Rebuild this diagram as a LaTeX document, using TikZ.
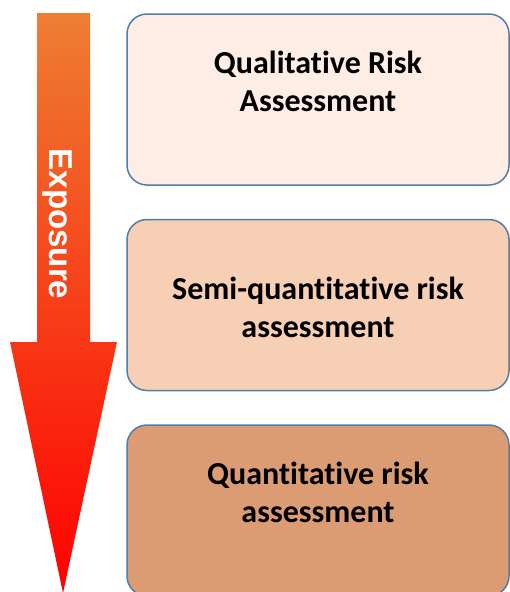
\documentclass[tikz,border=0pt]{standalone}
\usepackage{fontspec}
\setmainfont{Carlito}[Ligatures={NoCommon}]
\newfontfamily\arrowfont{Liberation Sans}
\usepackage{tikz}
\usetikzlibrary{positioning,calc}
\definecolor{arrowTop}{RGB}{238,126,50}
\definecolor{arrowMid}{RGB}{250,88,36}
\definecolor{arrowBot}{RGB}{255,0,0}
\definecolor{boxLine}{RGB}{80,125,170}
\definecolor{qualFill}{RGB}{253,237,228}
\definecolor{semiFill}{RGB}{246,207,180}
\definecolor{quantFill}{RGB}{219,156,116}
\tikzstyle{stageBox}=[draw=boxLine, line width=1.5pt, rounded corners=20pt, minimum width=382pt, minimum height=171pt, inner sep=0pt, outer sep=0pt]
\tikzstyle{stageText}=[align=center, font=\fontsize{32}{38}\selectfont\bfseries, inner sep=0pt]
\tikzstyle{arrowText}=[font=\arrowfont\fontsize{33}{38}\selectfont\bfseries, text=white, rotate=-90, inner sep=0pt]

\begin{document}
\begin{tikzpicture}[x=1pt, y=-1pt]
      \useasboundingbox (0,0) rectangle (510,592);
      \shade[top color=arrowTop, middle color=arrowMid, bottom color=arrowBot]
        (37,13) -- (90,13) -- (90,342) -- (117,342) -- (63,593) -- (10,342) -- (37,342) -- cycle;
      \node(exp) [arrowText] at (57, 224){Exposure};
      \node(qual) [stageBox, fill=qualFill] at (318, 99.5){};
      \node(semi) [stageBox, fill=semiFill] at (318, 305){};
      \node(quant) [stageBox, fill=quantFill] at (318, 510.5){};
      \node(qualT) [stageText] at ([yshift=18pt]qual.center){Qualitative Risk\\Assessment};
      \node(semiT) [stageText] at ([yshift=-2pt]semi.center){Semi-quantitative risk\\assessment};
      \node(quantT) [stageText] at ([yshift=18pt]quant.center){Quantitative risk\\assessment};
    \end{tikzpicture}
\end{document}
